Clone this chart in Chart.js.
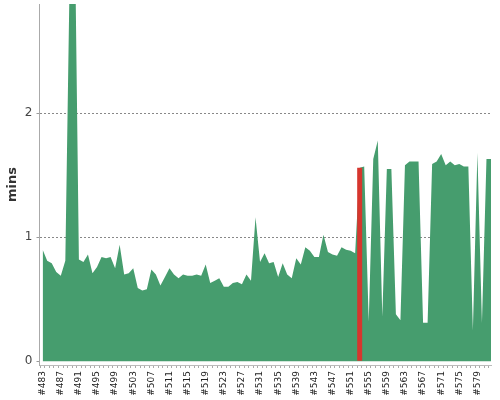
<!DOCTYPE html>
<html>
<head>
<meta charset="utf-8">
<script src="https://cdn.jsdelivr.net/npm/chart.js@4/dist/chart.umd.min.js"></script>
<style>
  html, body { margin: 0; padding: 0; background: #fff; }
  #wrap { width: 500px; height: 400px; position: relative; }
</style>
</head>
<body>
<div id="wrap"><canvas id="c"></canvas></div>
<script>
const builds = [483,484,485,486,487,488,489,490,491,492,493,494,495,496,497,498,499,500,501,502,
  503,504,505,506,507,508,509,510,511,512,513,514,515,516,517,518,519,520,521,522,
  523,524,525,526,527,528,529,530,531,532,533,534,535,536,537,538,539,540,541,542,
  543,544,545,546,547,548,549,550,551,552,553,554,555,556,557,558,559,560,561,562,
  563,564,565,566,567,568,569,570,571,572,573,574,575,576,577,578,579,580,581,582];
const buildMins = [0.90,0.81,0.79,0.72,0.69,0.81,3.20,3.80,0.82,0.80,
  0.86,0.71,0.76,0.84,0.83,0.84,0.75,0.94,0.70,0.71,
  0.75,0.59,0.57,0.58,0.74,0.70,0.61,0.68,0.75,0.70,
  0.67,0.70,0.69,0.69,0.70,0.69,0.78,0.63,0.65,0.67,
  0.60,0.60,0.63,0.64,0.62,0.70,0.65,1.16,0.80,0.87,
  0.79,0.80,0.68,0.79,0.70,0.67,0.83,0.78,0.92,0.89,
  0.84,0.84,1.02,0.88,0.86,0.85,0.92,0.90,0.89,0.87,
  1.56,1.57,0.32,1.63,1.78,0.36,1.55,1.55,0.38,0.33,
  1.58,1.61,1.61,1.61,0.31,0.31,1.59,1.61,1.67,1.58,
  1.61,1.58,1.59,1.57,1.57,0.25,1.68,0.31,1.63,1.63];
const failedBuilds = [553];
const failedMins = [1.56];
const yTitle = 'mins';

const okPoints = builds.map((b, i) => ({ x: b, y: buildMins[i] }));
const failPoints = failedBuilds.map((b, i) => ({ x: b, y: failedMins[i] }));

new Chart(document.getElementById('c'), {
  type: 'line',
  data: {
    datasets: [
      {
        type: 'bar',
        data: failPoints,
        backgroundColor: 'rgb(214,54,46)',
        borderWidth: 0,
        barPercentage: 1.1,
        categoryPercentage: 1,
        order: 0
      },
      {
        type: 'line',
        data: okPoints,
        backgroundColor: 'rgb(70,157,110)',
        borderColor: 'rgb(70,157,110)',
        borderWidth: 0,
        fill: 'origin',
        pointRadius: 0,
        tension: 0,
        order: 1
      }
    ]
  },
  options: {
    responsive: true,
    maintainAspectRatio: false,
    animation: false,
    layout: { padding: { left: 0, right: 9, top: 4, bottom: 0 } },
    plugins: { legend: { display: false }, tooltip: { enabled: false } },
    scales: {
      x: {
        type: 'linear',
        offset: false,
        min: builds[0] - 0.7,
        max: builds[builds.length - 1],
        afterFit: (s) => { s.height = 35; s.paddingLeft = 0; s.paddingRight = 0; },
        grid: { drawOnChartArea: false, drawTicks: true, tickLength: 3, tickColor: '#aaa' },
        border: { display: true, color: '#bbb' },
        ticks: {
          stepSize: 1,
          includeBounds: false,
          autoSkip: false,
          minRotation: 90,
          maxRotation: 90,
          padding: 3,
          color: '#222',
          font: { family: 'DejaVu Sans', size: 9 },
          callback: (v) => (Number.isInteger(v) && (v - builds[0]) % 4 === 0) ? '#' + v : ''
        }
      },
      y: {
        min: -0.03,
        max: 2.88,
        z: 1,
        afterFit: (s) => { s.width = 39.5; s.paddingTop = 0; s.paddingBottom = 0; },
        grid: {
          color: (ctx) => (ctx.tick && ctx.tick.value === 0) ? 'rgba(0,0,0,0)' : '#888',
          tickLength: 3,
          tickColor: '#999',
          tickBorderDash: []
        },
        border: { display: true, color: '#aaa', dash: [2, 2] },
        ticks: {
          stepSize: 1,
          includeBounds: false,
          padding: 4,
          color: '#444',
          font: { family: 'DejaVu Sans', size: 12 }
        },
        title: {
          display: true,
          text: yTitle,
          color: '#333',
          font: { family: 'DejaVu Sans', size: 13, weight: 'bold' },
          padding: { top: 5, bottom: 0 }
        }
      }
    }
  }
});
</script>
</body>
</html>
